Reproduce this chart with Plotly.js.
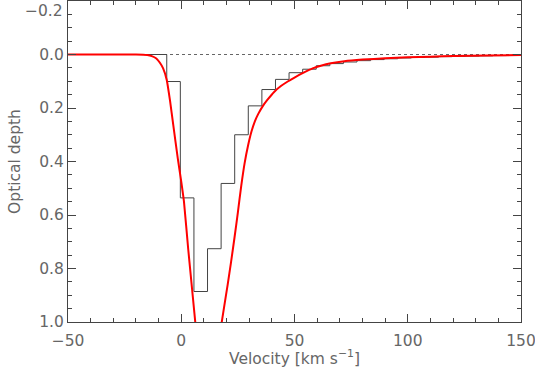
<!DOCTYPE html>
<html>
<head>
<meta charset="utf-8">
<script src="https://cdn.plot.ly/plotly-3.0.1.min.js"></script>
<style>
  html, body { margin: 0; padding: 0; background: #fff; }
  #chart { width: 535px; height: 368px; }
</style>
</head>
<body>
<div id="chart"></div>
<script>
// histogram: left bin edges (km/s) and optical depth per bin
var binEdges = [-50, -6.4, -0.4, 5.6, 11.6, 17.6, 23.6, 29.6, 35.6, 41.6, 47.6, 53.6, 59.6, 65.6,
  71.6, 77.6, 83.6, 89.6, 95.6, 101.6, 107.6, 113.6, 119.6, 125.6, 131.6, 137.6, 143.6, 150];
var binTau = [0, 0.101, 0.536, 0.886, 0.726, 0.482, 0.300, 0.192, 0.131, 0.093, 0.068, 0.055, 0.042,
  0.034, 0.028, 0.023, 0.019, 0.016, 0.013, 0.011, 0.010, 0.008, 0.007, 0.006, 0.005, 0.004, 0.003, 0.003];

// fitted model (null = off the bottom of the plot)
var fitVel = [-50, -30, -20, -15, -13, -11, -9.5, -8, -6.4, -5, -3.5, -1.5, 0, 1.2, 3.1, 6.3,
  null,
  17.7, 19, 20.5, 22, 23.5, 25, 26.5, 28, 29.5, 31, 32.5, 34, 36, 38, 41, 44, 47, 50, 54, 58, 62, 66,
  72, 80, 90, 100, 110, 120, 135, 150];
var fitTau = [0, 0, 0, 0.002, 0.006, 0.015, 0.03, 0.052, 0.095, 0.17, 0.265, 0.39, 0.475, 0.55, 0.73, 1.01,
  null,
  1.01, 0.94, 0.86, 0.775, 0.685, 0.59, 0.49, 0.405, 0.34, 0.288, 0.25, 0.222, 0.193, 0.170, 0.140, 0.118,
  0.101, 0.086, 0.068, 0.052, 0.041, 0.033, 0.025, 0.019, 0.014, 0.010, 0.008, 0.006, 0.004, 0.002];

var zeroVel = [-50, 150];
var zeroTau = [0, 0];

// top y tick, drawn as an annotation so it is not clipped by the page edge
var topTickVal = -0.2;
var topTickText = "\u22120.2";

var traceZero = {
  x: zeroVel, y: zeroTau, type: "scatter", mode: "lines",
  line: { color: "#666", width: 1, dash: "dot" },
  hoverinfo: "skip"
};
var traceHist = {
  x: binEdges, y: binTau, type: "scatter", mode: "lines",
  line: { color: "#444", width: 1, shape: "hv" }
};
var traceFit = {
  x: fitVel, y: fitTau, type: "scatter", mode: "lines",
  connectgaps: false,
  line: { color: "#ff0000", width: 2, shape: "spline", smoothing: 0.5 }
};

var axisFont = { family: "DejaVu Sans, sans-serif", size: 15.5, color: "#666" };

var layout = {
  width: 535, height: 368,
  margin: { l: 68, r: 14, t: 1, b: 46 },
  paper_bgcolor: "#fff", plot_bgcolor: "#fff",
  showlegend: false,
  font: axisFont,
  xaxis: {
    range: [-50, 150], dtick: 50, tick0: 0,
    ticks: "inside", ticklen: 8, tickcolor: "#444", tickwidth: 1,
    minor: { dtick: 10, ticks: "inside", ticklen: 4, tickcolor: "#444" },
    showline: true, linecolor: "#444", linewidth: 1, mirror: "allticks",
    showgrid: false, zeroline: false,
    ticklabeloverflow: "allow", ticklabelstandoff: 4,
    tickfont: axisFont,
    title: { text: "Velocity [km s<sup>\u22121</sup>]", font: axisFont, standoff: 0 }
  },
  yaxis: {
    range: [1.0, -0.2], dtick: 0.2, tick0: 0, tickformat: ".1f",
    ticks: "inside", ticklen: 8, tickcolor: "#444", tickwidth: 1,
    minor: { dtick: 0.05, ticks: "inside", ticklen: 4, tickcolor: "#444" },
    showline: true, linecolor: "#444", linewidth: 1, mirror: "allticks",
    showgrid: false, zeroline: false,
    tickfont: axisFont,
    title: { text: "Optical depth", font: axisFont, standoff: 14 }
  },
  annotations: [{
    xref: "paper", yref: "y", x: 0, y: topTickVal,
    xanchor: "right", yanchor: "top", xshift: -3, yshift: 1,
    text: topTickText, showarrow: false, font: axisFont
  }]
};

Plotly.newPlot("chart", [traceZero, traceHist, traceFit], layout, { displayModeBar: false, staticPlot: true });
</script>
</body>
</html>
